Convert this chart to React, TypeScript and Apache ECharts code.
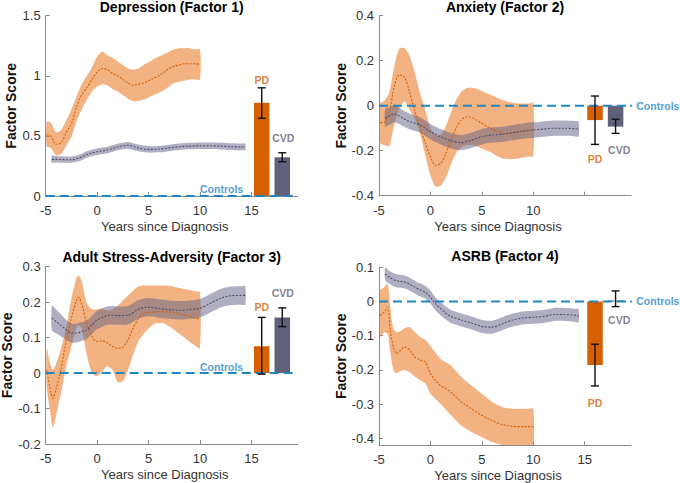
import React, { useEffect, useRef } from "react";
import * as echarts from "echarts";

// ---- data ----
const panelTitles = [
  "Depression (Factor 1)",
  "Anxiety (Factor 2)",
  "Adult Stress-Adversity (Factor 3)",
  "ASRB (Factor 4)",
];

const xTicks = [-5, 0, 5, 10, 15];
const xTicksAnx = [-5, 0, 5, 10];
const yTicks1 = [0, 0.5, 1, 1.5];
const yTicks2 = [-0.4, -0.2, 0, 0.2, 0.4];
const yTicks3 = [-0.2, -0.1, 0, 0.1, 0.2, 0.3];
const yTicks4 = [-0.4, -0.3, -0.2, -0.1, 0, 0.1];

// years since diagnosis
const pdYears = [-4.9, -4.5, -4, -3.5, -3, -2.5, -2, -1.5, -1, -0.5, 0, 0.5, 1, 1.5, 2, 2.5, 3, 3.5, 4, 4.5, 5, 5.5, 6, 6.5, 7, 7.5, 8, 8.5, 9, 9.5, 10];
const pdYears3 = [-4.9, -4.6, -4.3, -4, -3.5, -3, -2.5, -2, -1.8, -1.5, -1, -0.5, 0, 0.5, 1, 1.5, 2, 2.5, 3, 3.5, 4, 4.5, 5, 5.5, 6, 6.5, 7, 7.5, 8, 8.5, 9, 9.5, 10];
const pdYears4 = [-4.9, -4.5, -4.15, -3.9, -3.6, -3.3, -3, -2.5, -2, -1.5, -1, -0.5, 0, 0.5, 1, 1.5, 2, 2.5, 3, 3.5, 4, 4.5, 5, 5.5, 6, 6.5, 7, 7.5, 8, 8.5, 9, 9.5, 10];
const cvdYears = [-4.4, -4, -3.5, -3, -2.5, -2, -1.5, -1, -0.5, 0, 0.5, 1, 1.5, 2, 3, 4, 5, 6, 7, 8, 9, 10, 11, 12, 13, 14, 14.4];

// Factor 1 – Depression
const depPdMean = [0.51, 0.5, 0.43, 0.44, 0.53, 0.6, 0.74, 0.84, 0.9, 0.97, 1.03, 1.06, 1.05, 1.02, 1.0, 0.97, 0.94, 0.92, 0.93, 0.94, 0.96, 0.98, 1.0, 1.03, 1.06, 1.08, 1.09, 1.1, 1.1, 1.1, 1.095];
const depPdHi = [0.62, 0.61, 0.53, 0.55, 0.63, 0.72, 0.83, 0.93, 1.0, 1.07, 1.16, 1.2, 1.17, 1.15, 1.12, 1.09, 1.06, 1.05, 1.06, 1.09, 1.11, 1.14, 1.16, 1.18, 1.2, 1.22, 1.23, 1.23, 1.23, 1.22, 1.22];
const depPdLo = [0.41, 0.4, 0.34, 0.35, 0.42, 0.49, 0.62, 0.72, 0.8, 0.87, 0.91, 0.93, 0.92, 0.89, 0.87, 0.84, 0.81, 0.79, 0.79, 0.8, 0.82, 0.84, 0.86, 0.88, 0.91, 0.94, 0.95, 0.96, 0.97, 0.97, 0.97];
const depCvdMean = [0.305, 0.305, 0.303, 0.302, 0.302, 0.31, 0.325, 0.345, 0.358, 0.368, 0.376, 0.383, 0.395, 0.408, 0.422, 0.4, 0.388, 0.39, 0.4, 0.41, 0.415, 0.418, 0.418, 0.415, 0.41, 0.408, 0.408];
const depCvdHi = [0.335, 0.332, 0.33, 0.328, 0.328, 0.336, 0.352, 0.372, 0.385, 0.395, 0.403, 0.41, 0.422, 0.435, 0.45, 0.428, 0.415, 0.417, 0.427, 0.437, 0.442, 0.445, 0.445, 0.443, 0.438, 0.436, 0.436];
const depCvdLo = [0.277, 0.278, 0.276, 0.276, 0.276, 0.284, 0.298, 0.318, 0.331, 0.341, 0.349, 0.356, 0.368, 0.381, 0.394, 0.372, 0.361, 0.363, 0.373, 0.383, 0.388, 0.391, 0.391, 0.387, 0.382, 0.38, 0.38];

// Factor 2 – Anxiety
const anxPdMean = [-0.075, -0.075, -0.03, 0.09, 0.138, 0.125, 0.055, -0.027, -0.093, -0.167, -0.227, -0.264, -0.256, -0.212, -0.153, -0.1, -0.064, -0.05, -0.052, -0.064, -0.078, -0.092, -0.104, -0.115, -0.122, -0.124, -0.12, -0.116, -0.113, -0.11, -0.108];
const anxPdHi = [0.01, 0.02, 0.06, 0.18, 0.255, 0.255, 0.218, 0.144, 0.055, -0.02, -0.1, -0.13, -0.13, -0.09, -0.03, 0.025, 0.062, 0.078, 0.08, 0.075, 0.065, 0.055, 0.045, 0.035, 0.025, 0.018, 0.013, 0.01, 0.01, 0.01, 0.01];
const anxPdLo = [-0.165, -0.175, -0.18, -0.08, -0.01, 0.02, -0.02, -0.06, -0.125, -0.22, -0.31, -0.36, -0.355, -0.32, -0.26, -0.21, -0.185, -0.175, -0.175, -0.18, -0.19, -0.2, -0.21, -0.225, -0.235, -0.237, -0.237, -0.235, -0.23, -0.226, -0.224];
const anxCvdMean = [-0.056, -0.045, -0.037, -0.046, -0.06, -0.071, -0.078, -0.086, -0.1, -0.116, -0.127, -0.138, -0.148, -0.156, -0.164, -0.153, -0.138, -0.13, -0.127, -0.12, -0.113, -0.108, -0.104, -0.1, -0.1, -0.102, -0.104];
const anxCvdHi = [-0.015, -0.008, 0.0, -0.01, -0.025, -0.036, -0.044, -0.052, -0.066, -0.082, -0.093, -0.104, -0.114, -0.122, -0.13, -0.119, -0.104, -0.096, -0.093, -0.086, -0.079, -0.074, -0.07, -0.066, -0.066, -0.068, -0.07];
const anxCvdLo = [-0.095, -0.085, -0.075, -0.082, -0.095, -0.106, -0.112, -0.12, -0.134, -0.15, -0.161, -0.172, -0.182, -0.19, -0.198, -0.187, -0.172, -0.164, -0.161, -0.154, -0.147, -0.142, -0.138, -0.134, -0.134, -0.136, -0.138];

// Factor 3 – Adult Stress-Adversity
const strPdMean = [0.009, -0.04, -0.071, -0.045, 0.012, 0.094, 0.155, 0.205, 0.214, 0.195, 0.141, 0.103, 0.089, 0.091, 0.085, 0.075, 0.07, 0.073, 0.094, 0.127, 0.153, 0.167, 0.171, 0.172, 0.173, 0.173, 0.172, 0.17, 0.167, 0.163, 0.16, 0.156, 0.152];
const strPdHi = [0.07, 0.03, 0.01, 0.025, 0.07, 0.13, 0.21, 0.268, 0.275, 0.26, 0.197, 0.18, 0.18, 0.182, 0.176, 0.18, 0.19, 0.205, 0.218, 0.232, 0.244, 0.247, 0.247, 0.247, 0.247, 0.247, 0.246, 0.243, 0.24, 0.237, 0.234, 0.231, 0.228];
const strPdLo = [-0.04, -0.1, -0.155, -0.12, -0.056, 0.019, 0.075, 0.13, 0.135, 0.125, 0.05, 0.0, -0.009, 0.005, 0.019, 0.008, -0.025, -0.023, 0.009, 0.052, 0.089, 0.11, 0.126, 0.138, 0.141, 0.14, 0.132, 0.122, 0.11, 0.1, 0.088, 0.078, 0.07];
const strCvdMean = [0.155, 0.146, 0.134, 0.122, 0.113, 0.113, 0.117, 0.122, 0.136, 0.15, 0.157, 0.162, 0.163, 0.162, 0.163, 0.18, 0.186, 0.182, 0.179, 0.177, 0.179, 0.183, 0.197, 0.211, 0.218, 0.219, 0.219];
const strCvdHi = [0.19, 0.18, 0.165, 0.15, 0.14, 0.14, 0.143, 0.148, 0.162, 0.176, 0.183, 0.188, 0.189, 0.188, 0.189, 0.206, 0.212, 0.208, 0.205, 0.203, 0.205, 0.209, 0.223, 0.237, 0.244, 0.245, 0.245];
const strCvdLo = [0.12, 0.112, 0.103, 0.094, 0.086, 0.086, 0.091, 0.096, 0.11, 0.124, 0.131, 0.136, 0.137, 0.136, 0.137, 0.154, 0.16, 0.156, 0.153, 0.151, 0.153, 0.157, 0.171, 0.185, 0.192, 0.193, 0.193];

// Factor 4 – ASRB
const asrbPdMean = [-0.041, -0.031, -0.017, -0.085, -0.134, -0.153, -0.145, -0.133, -0.143, -0.163, -0.171, -0.177, -0.211, -0.231, -0.246, -0.255, -0.265, -0.28, -0.294, -0.304, -0.314, -0.324, -0.333, -0.341, -0.348, -0.355, -0.36, -0.363, -0.365, -0.366, -0.366, -0.366, -0.366];
const asrbPdHi = [0.032, 0.042, 0.052, -0.017, -0.08, -0.09, -0.088, -0.078, -0.075, -0.09, -0.104, -0.112, -0.13, -0.15, -0.168, -0.178, -0.187, -0.204, -0.221, -0.234, -0.246, -0.258, -0.27, -0.282, -0.294, -0.302, -0.309, -0.312, -0.314, -0.314, -0.314, -0.314, -0.314];
const asrbPdLo = [-0.104, -0.09, -0.095, -0.15, -0.2, -0.21, -0.205, -0.2, -0.207, -0.22, -0.23, -0.24, -0.27, -0.285, -0.3, -0.316, -0.333, -0.348, -0.363, -0.373, -0.382, -0.39, -0.397, -0.404, -0.411, -0.416, -0.42, -0.425, -0.43, -0.432, -0.434, -0.435, -0.435];
const asrbCvdMean = [0.081, 0.071, 0.063, 0.059, 0.057, 0.05, 0.042, 0.034, 0.027, 0.013, -0.007, -0.021, -0.034, -0.044, -0.054, -0.063, -0.073, -0.075, -0.065, -0.054, -0.048, -0.046, -0.044, -0.038, -0.038, -0.04, -0.042];
const asrbCvdHi = [0.1, 0.09, 0.082, 0.078, 0.076, 0.069, 0.061, 0.053, 0.046, 0.032, 0.012, -0.002, -0.015, -0.025, -0.035, -0.044, -0.054, -0.056, -0.046, -0.035, -0.029, -0.027, -0.025, -0.019, -0.019, -0.021, -0.023];
const asrbCvdLo = [0.062, 0.052, 0.044, 0.04, 0.038, 0.031, 0.023, 0.015, 0.008, -0.006, -0.026, -0.04, -0.053, -0.063, -0.073, -0.082, -0.092, -0.094, -0.084, -0.073, -0.067, -0.065, -0.063, -0.057, -0.057, -0.059, -0.061];

// overall group bars (PD, CVD) and their error bars
const barGroups = ["PD", "CVD"];
const barYears = [16, 18];
const depBars = [0.776, 0.322];
const depErrLo = [0.646, 0.285];
const depErrHi = [0.9, 0.36];
const anxBars = [-0.064, -0.093];
const anxErrLo = [-0.172, -0.123];
const anxErrHi = [0.043, -0.06];
const strBars = [0.076, 0.157];
const strErrLo = [-0.003, 0.131];
const strErrHi = [0.157, 0.184];
const asrbBars = [-0.186, 0.003];
const asrbErrLo = [-0.247, -0.015];
const asrbErrHi = [-0.125, 0.031];

const PD_COLOR = "#d65f00";
const PD_BAND = "rgba(234,122,40,0.58)";
const CVD_COLOR = "#60607a";
const CVD_LINE = "#4d4d6e";
const CVD_BAND = "rgba(95,95,132,0.5)";
const CTRL_COLOR = "#1f86c4";
const FONT = "'Liberation Sans', Arial, Helvetica, sans-serif";

type Panel = {
  title: string;
  grid: { left: number; top: number; width: number; height: number };
  titleTop: number;
  yMin: number;
  yMax: number;
  yTicks: number[];
  xLabels: number[];
  pd: { x: number[]; mean: number[]; lo: number[]; hi: number[] };
  cvd: { mean: number[]; lo: number[]; hi: number[] };
  bars: number[];
  errLo: number[];
  errHi: number[];
  pdLabel: number[];
  cvdLabel: number[];
  controls: number[] | null; // null -> label at end of line, outside plot
};

const panels: Panel[] = [
  {
    title: panelTitles[0],
    grid: { left: 45.7, top: 15.7, width: 252, height: 180.3 },
    titleTop: 0,
    yMin: 0, yMax: 1.5, yTicks: yTicks1, xLabels: xTicks,
    pd: { x: pdYears, mean: depPdMean, lo: depPdLo, hi: depPdHi },
    cvd: { mean: depCvdMean, lo: depCvdLo, hi: depCvdHi },
    bars: depBars, errLo: depErrLo, errHi: depErrHi,
    pdLabel: [16, 0.965], cvdLabel: [18.1, 0.48], controls: [12.1, 0.058],
  },
  {
    title: panelTitles[1],
    grid: { left: 379, top: 15.7, width: 252, height: 180 },
    titleTop: 0,
    yMin: -0.4, yMax: 0.4, yTicks: yTicks2, xLabels: xTicksAnx,
    pd: { x: pdYears, mean: anxPdMean, lo: anxPdLo, hi: anxPdHi },
    cvd: { mean: anxCvdMean, lo: anxCvdLo, hi: anxCvdHi },
    bars: anxBars, errLo: anxErrLo, errHi: anxErrHi,
    pdLabel: [16, -0.238], cvdLabel: [18.35, -0.197], controls: null,
  },
  {
    title: panelTitles[2],
    grid: { left: 45.7, top: 266.7, width: 252, height: 177.3 },
    titleTop: 249.5,
    yMin: -0.2, yMax: 0.3, yTicks: yTicks3, xLabels: xTicks,
    pd: { x: pdYears3, mean: strPdMean, lo: strPdLo, hi: strPdHi },
    cvd: { mean: strCvdMean, lo: strCvdLo, hi: strCvdHi },
    bars: strBars, errLo: strErrLo, errHi: strErrHi,
    pdLabel: [16, 0.187], cvdLabel: [18.05, 0.225], controls: [12.1, 0.018],
  },
  {
    title: panelTitles[3],
    grid: { left: 379, top: 267.3, width: 252, height: 177.8 },
    titleTop: 249,
    yMin: -0.42, yMax: 0.1, yTicks: yTicks4, xLabels: xTicks,
    pd: { x: pdYears4, mean: asrbPdMean, lo: asrbPdLo, hi: asrbPdHi },
    cvd: { mean: asrbCvdMean, lo: asrbCvdLo, hi: asrbCvdHi },
    bars: asrbBars, errLo: asrbErrLo, errHi: asrbErrHi,
    pdLabel: [16, -0.296], cvdLabel: [18.35, -0.054], controls: null,
  },
];

// shaded confidence band drawn as one polygon through the axis scales
const bandSeries = (i: number, xs: number[], lo: number[], hi: number[], fill: string) => ({
  type: "custom",
  xAxisIndex: i,
  yAxisIndex: i,
  clip: true,
  silent: true,
  data: xs.map((x, k) => [x, lo[k], hi[k]]),
  encode: { x: 0, y: [1, 2] },
  renderItem: (params: any, api: any) => {
    if (params.dataIndex !== 0) return null;
    const top = xs.map((x, k) => api.coord([x, hi[k]]));
    const bottom = xs.map((x, k) => api.coord([x, lo[k]])).reverse();
    return {
      type: "polygon",
      shape: { points: top.concat(bottom), smooth: 0.25 },
      style: { fill, stroke: "none" },
    };
  },
});

const meanSeries = (i: number, xs: number[], ys: number[], color: string) => ({
  type: "line",
  xAxisIndex: i,
  yAxisIndex: i,
  data: xs.map((x, k) => [x, ys[k]]),
  smooth: 0.3,
  symbol: "none",
  silent: true,
  lineStyle: { color, width: 1.1, type: [2, 1.5] },
});

const errorSeries = (i: number, p: Panel) => ({
  type: "custom",
  xAxisIndex: i,
  yAxisIndex: i,
  silent: true,
  z: 5,
  data: barYears.map((x, k) => [x, p.errLo[k], p.errHi[k]]),
  encode: { x: 0, y: [1, 2] },
  renderItem: (_params: any, api: any) => {
    const a = api.coord([api.value(0), api.value(2)]);
    const b = api.coord([api.value(0), api.value(1)]);
    const w = 4;
    const st = { stroke: "#111", lineWidth: 1.4 };
    return {
      type: "group",
      children: [
        { type: "line", shape: { x1: a[0], y1: a[1], x2: b[0], y2: b[1] }, style: st },
        { type: "line", shape: { x1: a[0] - w, y1: a[1], x2: a[0] + w, y2: a[1] }, style: st },
        { type: "line", shape: { x1: b[0] - w, y1: b[1], x2: b[0] + w, y2: b[1] }, style: st },
      ],
    };
  },
});

const textPoint = (i: number, pos: number[], text: string, color: string) => ({
  type: "scatter",
  xAxisIndex: i,
  yAxisIndex: i,
  silent: true,
  symbolSize: 0,
  z: 6,
  data: [pos],
  label: {
    show: true,
    position: "inside",
    formatter: text,
    color,
    fontSize: 10.5,
    fontWeight: "bold",
    fontFamily: FONT,
  },
});

const App: React.FC = () => {
  const chartRef = useRef<HTMLDivElement>(null);

  useEffect(() => {
    if (!chartRef.current) return;
    const chart = echarts.init(chartRef.current, undefined, { renderer: "svg" });

    const series: any[] = [];
    panels.forEach((p, i) => {
      series.push(bandSeries(i, p.pd.x, p.pd.lo, p.pd.hi, PD_BAND));
      series.push(bandSeries(i, cvdYears, p.cvd.lo, p.cvd.hi, CVD_BAND));
      series.push(meanSeries(i, p.pd.x, p.pd.mean, PD_COLOR));
      series.push(meanSeries(i, cvdYears, p.cvd.mean, CVD_LINE));
      series.push({
        type: "bar",
        xAxisIndex: i,
        yAxisIndex: i,
        barWidth: 15.5,
        silent: true,
        data: barYears.map((x, k) => ({
          value: [x, p.bars[k]],
          itemStyle: { color: k === 0 ? PD_COLOR : CVD_COLOR },
        })),
      });
      series.push({
        type: "line",
        xAxisIndex: i,
        yAxisIndex: i,
        silent: true,
        z: 4,
        symbol: "none",
        data: [[-5, 0], [19.5, 0]],
        lineStyle: { color: CTRL_COLOR, width: 2, type: [9, 5] },
      });
      series.push(errorSeries(i, p));
      series.push(textPoint(i, p.pdLabel, barGroups[0], PD_COLOR));
      series.push(textPoint(i, p.cvdLabel, barGroups[1], CVD_COLOR));
      if (p.controls) {
        series.push(textPoint(i, p.controls, "Controls", CTRL_COLOR));
      } else {
        series.push({
          type: "scatter",
          xAxisIndex: i,
          yAxisIndex: i,
          silent: true,
          z: 6,
          symbolSize: 2.5,
          itemStyle: { color: CTRL_COLOR },
          data: [[19.5, 0]],
          label: {
            show: true,
            position: "right",
            distance: 4,
            formatter: "Controls",
            color: CTRL_COLOR,
            fontSize: 10.5,
            fontWeight: "bold",
            fontFamily: FONT,
          },
        });
      }
    });

    chart.setOption({
      animation: false,
      textStyle: { fontFamily: FONT },
      title: panels.map((p) => ({
        text: p.title,
        left: p.grid.left + p.grid.width / 2,
        top: p.titleTop,
        textAlign: "center",
        padding: 0,
        textStyle: { fontSize: 14, fontWeight: "bold", color: "#000", fontFamily: FONT },
      })),
      grid: panels.map((p) => ({ ...p.grid, containLabel: false, outerBoundsMode: "none" })),
      xAxis: panels.map((p, i) => ({
        type: "value",
        gridIndex: i,
        min: -5,
        max: 19.5,
        name: "Years since Diagnosis",
        nameLocation: "middle",
        nameGap: 24,
        nameTextStyle: { fontSize: 13, color: "#333", padding: [0, 14, 0, 0] },
        axisLine: { onZero: false, lineStyle: { color: "#8a8a8a", width: 1 } },
        axisTick: { inside: true, length: 4, customValues: xTicks, lineStyle: { color: "#8a8a8a" } },
        axisLabel: { customValues: p.xLabels, fontSize: 13, color: "#333", margin: 8 },
        splitLine: { show: false },
      })),
      yAxis: panels.map((p, i) => ({
        type: "value",
        gridIndex: i,
        min: p.yMin,
        max: p.yMax,
        name: "Factor Score",
        nameLocation: "middle",
        nameGap: 28,
        nameTextStyle: { fontSize: 14, fontWeight: "bold", color: "#111" },
        axisLine: { show: true, onZero: false, lineStyle: { color: "#8a8a8a", width: 1 } },
        axisTick: { show: true, inside: true, length: 4, customValues: p.yTicks, lineStyle: { color: "#8a8a8a" } },
        axisLabel: { customValues: p.yTicks, fontSize: 13, color: "#333", margin: 5 },
        splitLine: { show: false },
      })),
      series,
    });

    return () => {
      chart.dispose();
    };
  }, []);

  return (
    <div
      ref={chartRef}
      style={{ position: "fixed", left: 0, top: 0, width: 680, height: 483, background: "#fff" }}
    />
  );
};

export default App;
